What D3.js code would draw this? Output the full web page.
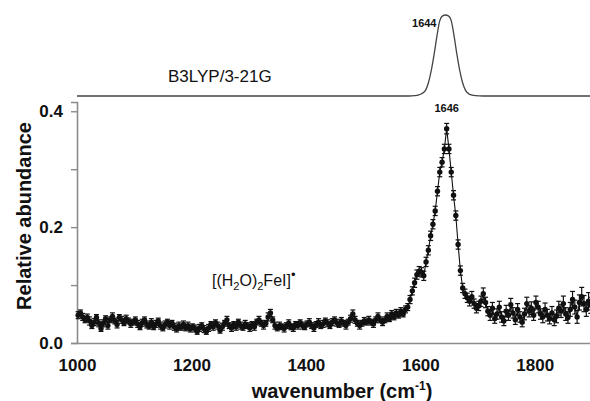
<!DOCTYPE html>
<html>
<head>
<meta charset="utf-8">
<script src="https://cdn.jsdelivr.net/npm/d3@7"></script>
<style>
  html, body { margin: 0; padding: 0; background: #fff; }
  svg { display: block; font-family: "Liberation Sans", Arial, sans-serif; }
</style>
</head>
<body>
<svg id="chart" width="590" height="401"></svg>
<script>
// Measured IR photodissociation spectrum of [(H2O)2FeI]• (relative abundance)
const obsStart = 1002;   // first sampled wavenumber (cm-1)
const obsStep = 4;       // sampling step (cm-1)
const obsValues = [
  0.048,0.052,0.045,0.040,0.044,0.038,0.030,0.036,0.044,0.034,0.025,0.034,0.042,0.030,0.040,0.046,0.038,0.032,0.044,0.040,0.035,0.042,0.038,0.033,0.036,
  0.040,0.033,0.028,0.035,0.040,0.032,0.029,0.036,0.028,0.033,0.038,0.030,0.026,0.032,0.036,0.030,0.034,0.028,0.024,0.030,0.027,0.032,0.026,0.030,0.024,
  0.028,0.025,0.020,0.026,0.030,0.024,0.020,0.026,0.032,0.028,0.035,0.030,0.022,0.028,0.034,0.040,0.030,0.026,0.032,0.028,0.036,0.030,0.027,0.033,0.030,
  0.026,0.032,0.028,0.036,0.040,0.034,0.030,0.034,0.045,0.052,0.040,0.030,0.026,0.030,0.028,0.025,0.030,0.034,0.028,0.026,0.032,0.030,0.035,0.030,0.028,
  0.033,0.036,0.030,0.026,0.032,0.036,0.030,0.033,0.038,0.034,0.030,0.036,0.040,0.035,0.032,0.038,0.034,0.030,0.036,0.042,0.050,0.040,0.034,0.030,0.034,
  0.038,0.036,0.040,0.036,0.033,0.040,0.046,0.040,0.036,0.040,0.046,0.042,0.050,0.045,0.052,0.048,0.055,0.050,0.058,0.062,0.075,0.090,0.104,0.118,0.124,
  0.122,0.116,0.140,0.160,0.185,0.205,0.228,0.262,0.295,0.312,0.335,0.370,0.335,0.295,0.255,0.220,0.170,0.125,0.095,0.085,0.078,0.072,0.080,0.068,0.060,
  0.064,0.072,0.085,0.070,0.055,0.048,0.060,0.042,0.050,0.062,0.045,0.038,0.055,0.048,0.066,0.052,0.040,0.058,0.045,0.036,0.050,0.068,0.055,0.060,0.048,
  0.070,0.062,0.050,0.045,0.058,0.048,0.042,0.052,0.040,0.046,0.060,0.055,0.068,0.050,0.044,0.058,0.075,0.062,0.045,0.070,0.080,0.068,0.058,0.072,0.065
];
const obsErrors = [
  0.006,0.005,0.006,0.005,0.006,0.007,0.005,0.006,0.005,0.006,0.005,0.006,0.005,0.006,0.005,0.006,0.005,0.006,0.005,0.006,0.005,0.006,0.005,0.006,0.005,
  0.005,0.006,0.005,0.006,0.005,0.006,0.005,0.006,0.005,0.006,0.005,0.006,0.005,0.006,0.005,0.006,0.005,0.006,0.005,0.006,0.005,0.006,0.005,0.006,0.005,
  0.005,0.006,0.005,0.006,0.005,0.006,0.005,0.006,0.005,0.006,0.005,0.006,0.005,0.006,0.005,0.006,0.005,0.006,0.005,0.006,0.005,0.006,0.005,0.006,0.005,
  0.006,0.005,0.006,0.005,0.006,0.005,0.006,0.005,0.007,0.006,0.005,0.006,0.005,0.006,0.005,0.006,0.005,0.006,0.005,0.006,0.005,0.006,0.005,0.006,0.005,
  0.005,0.006,0.005,0.006,0.005,0.006,0.005,0.006,0.005,0.006,0.005,0.006,0.005,0.006,0.005,0.006,0.005,0.006,0.005,0.006,0.007,0.006,0.005,0.006,0.005,
  0.006,0.005,0.006,0.005,0.006,0.005,0.006,0.005,0.006,0.005,0.006,0.005,0.006,0.005,0.006,0.005,0.006,0.005,0.006,0.006,0.007,0.007,0.008,0.008,0.008,
  0.008,0.008,0.008,0.008,0.008,0.008,0.008,0.008,0.008,0.008,0.008,0.009,0.008,0.008,0.008,0.008,0.008,0.008,0.008,0.008,0.008,0.008,0.009,0.008,0.008,
  0.008,0.009,0.010,0.009,0.008,0.009,0.010,0.008,0.009,0.010,0.009,0.008,0.010,0.009,0.011,0.009,0.008,0.010,0.009,0.008,0.010,0.011,0.010,0.011,0.009,
  0.011,0.010,0.009,0.010,0.011,0.010,0.009,0.011,0.010,0.011,0.012,0.011,0.013,0.011,0.010,0.012,0.014,0.012,0.011,0.013,0.016,0.014,0.012,0.015,0.014
];

// Calculated B3LYP/3-21G band (normalised intensity)
const calcWavenumbers = [1000, 1580, 1590, 1596, 1602, 1609, 1614, 1619, 1624, 1629, 1634, 1639, 1644, 1649, 1654, 1659, 1664, 1669, 1674, 1679, 1686, 1696, 1710, 1900];
const calcIntensity   = [0,    0,    0.004,0.01, 0.027,0.07, 0.16, 0.31, 0.51, 0.74, 0.93, 0.99, 1.0,  0.99, 0.93, 0.74, 0.51, 0.31, 0.16, 0.07, 0.02, 0.004,0,    0];

const xTicks = [1000, 1200, 1400, 1600, 1800];
const yTicks = [0, 0.1, 0.2, 0.3, 0.4];
const yTickLabels = [0, 0.2, 0.4];

const obsPeak = { wn: 1646, label: "1646" };
const calcPeak = { wn: 1644, label: "1644" };

const svg = d3.select("#chart");

const x = d3.scaleLinear().domain([1000, 1900]).range([77, 592]);
const y = d3.scaleLinear().domain([0, 0.416]).range([343, 102]);
const yCalc = d3.scaleLinear().domain([0, 1]).range([96, 15]);

const axisColor = "#8c8c8c";

// y axis
const yAxis = d3.axisLeft(y)
  .tickValues(yTicks)
  .tickSize(6)
  .tickPadding(8)
  .tickFormat(d => yTickLabels.some(v => Math.abs(v - d) < 1e-9) ? d3.format(".1f")(d) : "");
const gy = svg.append("g").attr("transform", "translate(77,0)").call(yAxis);
gy.select(".domain").attr("stroke", axisColor).attr("stroke-width", 1.6);
gy.selectAll(".tick line").attr("stroke", axisColor).attr("stroke-width", 1.4);
gy.selectAll(".tick text")
  .attr("fill", "#111").attr("font-size", 17).attr("font-weight", "bold")
  .attr("font-family", "Liberation Sans, Arial, sans-serif");

// x axis
const xAxis = d3.axisBottom(x)
  .tickValues(xTicks)
  .tickSize(0)
  .tickPadding(16)
  .tickFormat(d3.format("d"));
const gx = svg.append("g").attr("transform", "translate(0,343)").call(xAxis);
gx.select(".domain").attr("stroke", axisColor).attr("stroke-width", 1.6);
gx.selectAll(".tick text")
  .attr("fill", "#111").attr("font-size", 17).attr("font-weight", "bold")
  .attr("font-family", "Liberation Sans, Arial, sans-serif");

// axis titles
svg.append("text")
  .attr("transform", "translate(31,216) rotate(-90)")
  .attr("text-anchor", "middle")
  .attr("font-size", 20).attr("font-weight", "bold").attr("fill", "#111")
  .text("Relative abundance");

const xt = svg.append("text")
  .attr("x", 342).attr("y", 398)
  .attr("text-anchor", "middle")
  .attr("font-size", 20).attr("font-weight", "bold").attr("fill", "#111");
xt.append("tspan").text("wavenumber (cm");
xt.append("tspan").attr("font-size", 12).attr("dy", -8).text("-1");
xt.append("tspan").attr("dy", 8).text(")");

// calculated spectrum
const calcData = calcWavenumbers.map((w, i) => ({ w, v: calcIntensity[i] }));
svg.append("path")
  .datum(calcData)
  .attr("fill", "none")
  .attr("stroke", "#444")
  .attr("stroke-width", 1.3)
  .attr("d", d3.line().x(d => x(d.w)).y(d => yCalc(d.v)).curve(d3.curveMonotoneX));

svg.append("text")
  .attr("x", 168).attr("y", 82)
  .attr("font-size", 17).attr("fill", "#111")
  .text("B3LYP/3-21G");

svg.append("text")
  .attr("x", x(calcPeak.wn) - 9).attr("y", yCalc(1) + 12)
  .attr("text-anchor", "end")
  .attr("font-size", 11).attr("font-weight", "bold").attr("fill", "#111")
  .text(calcPeak.label);

// observed spectrum
const obs = obsValues.map((v, i) => ({ w: obsStart + i * obsStep, v, e: obsErrors[i] }));

svg.append("path")
  .datum(obs)
  .attr("fill", "none")
  .attr("stroke", "#111")
  .attr("stroke-width", 1.1)
  .attr("d", d3.line().x(d => x(d.w)).y(d => y(d.v)));

const bars = svg.append("g").attr("stroke", "#111").attr("stroke-width", 1.2);
bars.selectAll("line.eb")
  .data(obs).join("line").attr("class", "eb")
  .attr("x1", d => x(d.w)).attr("x2", d => x(d.w))
  .attr("y1", d => y(d.v - d.e)).attr("y2", d => y(d.v + d.e));
bars.selectAll("line.capTop")
  .data(obs).join("line").attr("class", "capTop")
  .attr("x1", d => x(d.w) - 2.5).attr("x2", d => x(d.w) + 2.5)
  .attr("y1", d => y(d.v + d.e)).attr("y2", d => y(d.v + d.e));
bars.selectAll("line.capBot")
  .data(obs).join("line").attr("class", "capBot")
  .attr("x1", d => x(d.w) - 2.5).attr("x2", d => x(d.w) + 2.5)
  .attr("y1", d => y(d.v - d.e)).attr("y2", d => y(d.v - d.e));

svg.append("g").selectAll("circle")
  .data(obs).join("circle")
  .attr("cx", d => x(d.w)).attr("cy", d => y(d.v))
  .attr("r", 2.7).attr("fill", "#111");

const peakPoint = obs.find(d => d.w === obsPeak.wn);
svg.append("text")
  .attr("x", x(peakPoint.w)).attr("y", y(peakPoint.v) - 17)
  .attr("text-anchor", "middle")
  .attr("font-size", 11).attr("font-weight", "bold").attr("fill", "#111")
  .text(obsPeak.label);

// species label
const sp = svg.append("text")
  .attr("x", 212).attr("y", 286)
  .attr("font-size", 16).attr("fill", "#111");
sp.append("tspan").text("[(H");
sp.append("tspan").attr("font-size", 11).attr("dy", 4).text("2");
sp.append("tspan").attr("dy", -4).text("O)");
sp.append("tspan").attr("font-size", 11).attr("dy", 4).text("2");
sp.append("tspan").attr("dy", -4).text("FeI]");
sp.append("tspan").attr("font-size", 13).attr("dy", -7).text("•");
</script>
</body>
</html>
